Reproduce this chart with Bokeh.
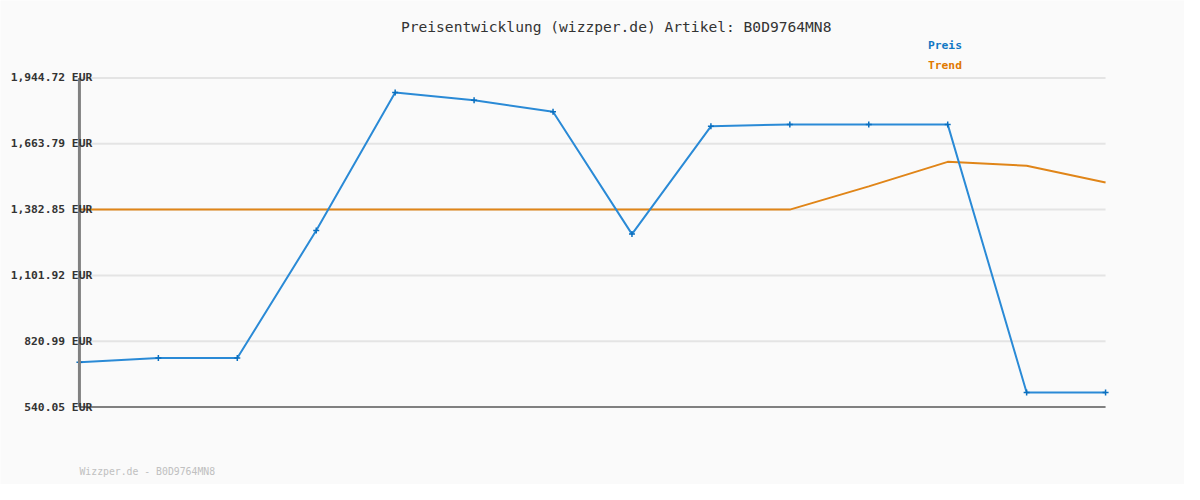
from bokeh.plotting import figure
from bokeh.models import Range1d, Label
from bokeh.embed import file_html
from bokeh.resources import INLINE

# ---- data ----
x_idx = list(range(14))
preis = [731.3, 749.4, 749.4, 1293.2, 1882.7, 1849.7, 1800.1, 1278.3,
         1738.1, 1746.4, 1746.4, 1746.4, 602.0, 602.0]
trend = [1382.85, 1382.85, 1382.85, 1382.85, 1382.85, 1382.85, 1382.85, 1382.85,
         1382.85, 1382.85, 1482.0, 1586.6, 1570.2, 1498.5]
y_ticks = [540.05, 820.99, 1101.92, 1382.85, 1663.79, 1944.72]
y_tick_labels = ["540.05 EUR", "820.99 EUR", "1,101.92 EUR", "1,382.85 EUR",
                 "1,663.79 EUR", "1,944.72 EUR"]
title_text = "Preisentwicklung (wizzper.de) Artikel: B0D9764MN8"
footer_text = "Wizzper.de - B0D9764MN8"
legend_names = ["Preis", "Trend"]

# ---- layout (reference pixel geometry: 1200x500, plot area 80..1120 x 80..420) ----
W, H = 1184, 484
REF_W, REF_H = 1200, 500
RL, RR, RT, RB = 80, 1120, 80, 420
X0, X1 = x_idx[0], x_idx[-1]
Y0, Y1 = y_ticks[0], y_ticks[-1]
sx = (RR - RL) / (X1 - X0)
sy = (RB - RT) / (Y1 - Y0)


def rx(px):
    return X0 + (px - RL) / sx


def ry(py):
    return Y1 - (py - RT) / sy


BG = "#fafafa"
BLUE_LINE = "#2a8ad6"
BLUE_MARK = "#0a6fbf"
BLUE_TXT = "#1177c4"
ORANGE_LINE = "#e08518"
ORANGE_TXT = "#e07800"
MONO = "DejaVu Sans Mono"

p = figure(width=W, height=H, output_backend="svg", toolbar_location=None,
           x_range=Range1d(rx(0), rx(REF_W)), y_range=Range1d(ry(REF_H), ry(0)),
           x_axis_type=None, y_axis_type=None,
           min_border=0, min_border_left=0, min_border_right=0,
           min_border_top=0, min_border_bottom=0)
p.background_fill_color = BG
p.border_fill_color = BG
p.outline_line_color = None
p.grid.visible = False

# grid lines
gy = y_ticks[1:]
p.segment(x0=[X0] * len(gy), y0=gy, x1=[X1] * len(gy), y1=gy,
          line_color="#e4e4e4", line_width=2)

# series
p.line(x_idx, trend, line_color=ORANGE_LINE, line_width=2)
p.line(x_idx, preis, line_color=BLUE_LINE, line_width=2)
p.scatter(x_idx, preis, marker="cross", size=6, line_color=BLUE_MARK, line_width=1.5)

# axis lines
p.segment(x0=[X0], y0=[Y0], x1=[X1], y1=[Y0], line_color="#808080", line_width=2)
p.segment(x0=[X0], y0=[Y0], x1=[X0], y1=[Y1], line_color="#808080", line_width=3)

# tick labels
for v, t in zip(y_ticks, y_tick_labels):
    p.add_layout(Label(x=rx(93), y=v, text=t, text_align="right", text_baseline="middle",
                       text_font=MONO, text_font_size="11.3px", text_font_style="bold",
                       text_color="#333333"))

# title
p.add_layout(Label(x=rx(624), y=ry(27), text=title_text, text_align="center",
                   text_baseline="middle", text_font=MONO, text_font_size="14.6px",
                   text_color="#333333"))

# legend
for name, col, py in zip(legend_names, [BLUE_TXT, ORANGE_TXT], [47, 67]):
    p.add_layout(Label(x=rx(940), y=ry(py), text=name, text_align="left",
                       text_baseline="middle", text_font=MONO, text_font_size="11.3px",
                       text_font_style="bold", text_color=col))

# footer
p.add_layout(Label(x=rx(80), y=ry(487), text=footer_text, text_align="left",
                   text_baseline="middle", text_font=MONO, text_font_size="9.8px",
                   text_color="#c0c0c0"))

open("out.html", "w").write(file_html(p, INLINE))
